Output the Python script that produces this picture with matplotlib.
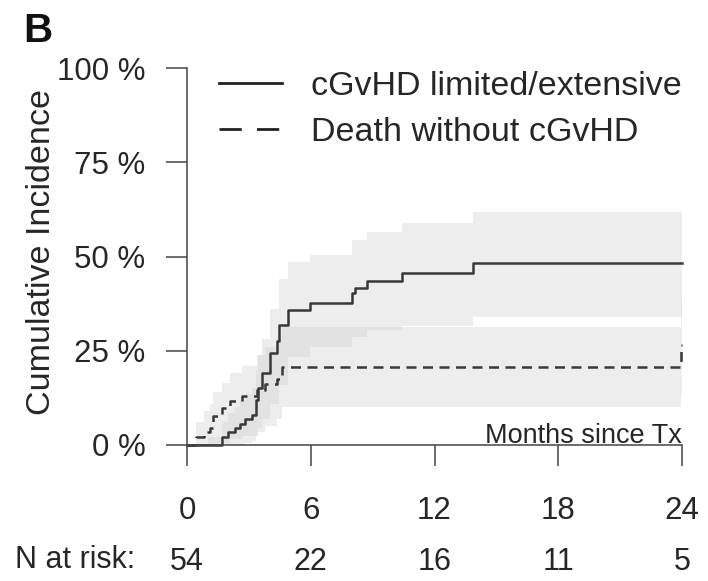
import matplotlib
matplotlib.use("Agg")
import matplotlib.pyplot as plt
from matplotlib.lines import Line2D

plt.rcParams["font.family"] = ["Liberation Sans", "DejaVu Sans"]

# cumulative incidence curves (months, %)
cgvhd_t = [0, 1.71, 2.0, 2.33, 2.57, 2.81, 3.14, 3.33, 3.45, 3.62, 4.02, 4.35,
           4.45, 4.91, 5.96, 7.98, 8.14, 8.71, 10.41, 13.88, 24.0]
cgvhd_v = [0, 2.2, 3.5, 4.4, 5.6, 6.9, 8.0, 11.9, 15.0, 19.0, 24.3, 27.5,
           31.8, 35.8, 37.6, 40.2, 41.6, 43.6, 45.5, 48.2, 48.2]

death_t = [0, 0.45, 0.8, 1.1, 1.28, 1.68, 2.08, 2.65, 3.38, 3.78, 4.35, 4.6, 23.95, 24.0]
death_v = [0, 2.2, 3.4, 4.6, 7.6, 9.8, 11.6, 12.9, 14.7, 16.1, 17.4, 20.8, 26.5, 26.5]

# confidence bands
cgvhd_ci_t = [0, 1.0, 1.71, 2.0, 2.33, 2.57, 2.81, 3.14, 3.33, 3.45, 3.62, 4.02,
              4.45, 4.91, 5.96, 7.98, 8.71, 10.41, 13.88, 24.0]
cgvhd_lo = [0, 0, 0, 0, 0, 0, 0.5, 1.0, 2.5, 4.5, 7.0, 11.0,
            16.0, 23.4, 26.1, 28.7, 30.5, 31.5, 34.0, 34.0]
cgvhd_hi = [0, 2, 6, 8.5, 10, 12, 13.5, 15, 20, 24, 28, 36,
            44, 48.6, 50.4, 54.4, 56.6, 58.8, 61.9, 61.9]

death_ci_t = [0, 0.45, 0.8, 1.1, 1.28, 1.68, 2.08, 2.65, 3.38, 3.78, 4.35, 4.6, 23.95, 24.0]
death_lo = [0, 0, 0, 0, 0, 0.5, 1.5, 2.5, 3.5, 5.0, 7.0, 10.2, 13.0, 13.0]
death_hi = [0, 6, 9, 11, 14, 16.5, 19, 21, 24, 26, 28.5, 31.4, 38, 38]

x_ticks = [0, 6, 12, 18, 24]
y_ticks = [0, 25, 50, 75, 100]
n_at_risk = [54, 22, 16, 11, 5]
labels = ["cGvHD limited/extensive", "Death without cGvHD"]

W, H = 708, 581
fig = plt.figure(figsize=(W / 100, H / 100), dpi=100)
ax = fig.add_axes([187 / W, 1 - 445 / H, (682 - 187) / W, (445 - 68) / H])

band = dict(step="post", color="#cfcfcf", alpha=0.36, lw=0)
ax.fill_between(cgvhd_ci_t, cgvhd_lo, cgvhd_hi, **band)
ax.fill_between(death_ci_t, death_lo, death_hi, **band)

line_col = "#383838"
ax.step(cgvhd_t, cgvhd_v, where="post", color=line_col, lw=1.8, clip_on=False)
ax.step(death_t, death_v, where="post", color=line_col, lw=1.8, dashes=(4, 2.6),
        clip_on=False)

ax.set_xlim(0, 24)
ax.set_ylim(0, 100)
for s in ["top", "right"]:
    ax.spines[s].set_visible(False)
for s in ["left", "bottom"]:
    ax.spines[s].set_color("#444444")
    ax.spines[s].set_linewidth(1.1)
ax.set_xticks(x_ticks)
ax.set_yticks(y_ticks)
ax.set_yticklabels([f"{v} %" for v in y_ticks])
ax.tick_params(length=15, width=1.1, color="#444444", labelsize=22.5,
               labelcolor="#262626")
ax.tick_params(axis="y", pad=15)
ax.tick_params(axis="x", pad=22)

ax.text(24, 0.4, "Months since Tx", ha="right", va="baseline", fontsize=19.5,
        color="#262626")

handles = [Line2D([], [], color="#222222", lw=2.0),
           Line2D([], [], color="#222222", lw=2.0, dashes=(8, 5.5))]
leg = ax.legend(handles, labels, loc="upper left",
                bbox_to_anchor=(219 / W, 1 - 71 / H),
                bbox_transform=fig.transFigure, frameon=False, fontsize=24.5,
                handlelength=1.85, handletextpad=0.85, labelspacing=0.43,
                borderpad=0, borderaxespad=0)
for t in leg.get_texts():
    t.set_color("#262626")

# number at risk row
fig.text(15 / W, 1 - 560 / H, "N at risk:", ha="left", va="center", fontsize=22,
         color="#262626")
for xv, n in zip(x_ticks, n_at_risk):
    ax.text(xv, -(562 - 445) / 377, str(n), ha="center", va="center",
            fontsize=22, color="#262626", transform=ax.get_xaxis_transform())

fig.text(42 / W, 1 - 252 / H, "Cumulative Incidence", rotation=90, ha="center",
         va="center", fontsize=24.5, color="#262626")
fig.text(23 / W, 1 - 42 / H, "B", ha="left", va="baseline", fontsize=29,
         fontweight="bold", color="#111111")

fig.savefig("out.png", dpi=100)
